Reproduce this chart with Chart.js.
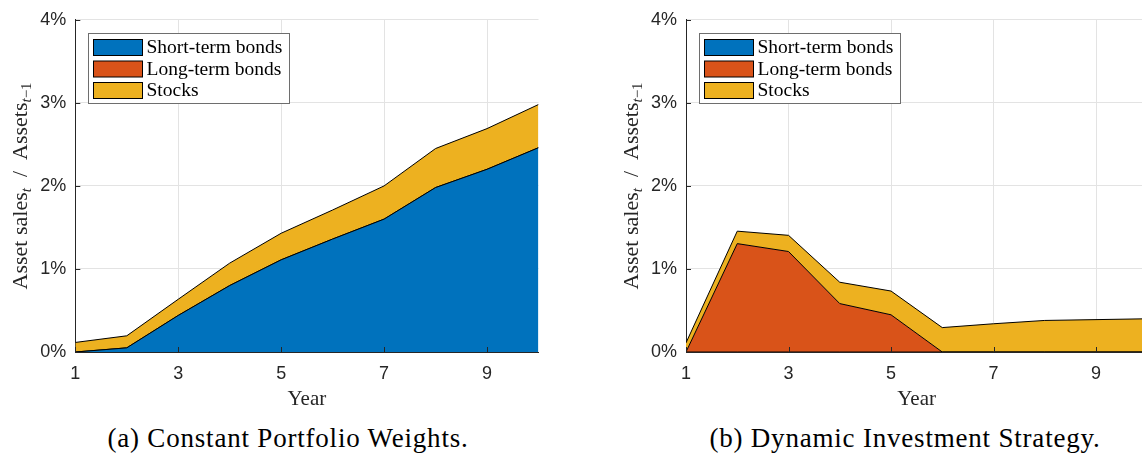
<!DOCTYPE html>
<html><head><meta charset="utf-8">
<script src="https://cdn.jsdelivr.net/npm/chart.js@4.4.1/dist/chart.umd.min.js"></script>
<style>
html,body{margin:0;padding:0;background:#fff;}
body{width:1142px;height:460px;overflow:hidden;position:relative;}
.wrap{position:absolute;top:0;width:560px;height:420px;}
#w1{left:0;}
#w2{left:600px;}
canvas{display:block;}
.cap{position:absolute;top:420px;font-family:"Liberation Serif","Times New Roman",serif;font-size:27px;letter-spacing:0.8px;color:#000;white-space:nowrap;transform:translateX(-50%);line-height:36px;}
</style></head><body>
<div class="wrap" id="w1"><canvas id="c1" width="560" height="420" style="width:560px;height:420px"></canvas></div>
<div class="wrap" id="w2"><canvas id="c2" width="560" height="420" style="width:560px;height:420px"></canvas></div>
<div class="cap" id="capA" style="left:288px"></div>
<div class="cap" id="capB" style="left:905px"></div>
<script>
// ---- data ----
const years = [1, 2, 3, 4, 5, 6, 7, 8, 9, 10];
const seriesNames = ['Short-term bonds', 'Long-term bonds', 'Stocks'];
const seriesColors = ['#0072BD', '#D95319', '#EDB120'];
// (a) Constant Portfolio Weights (percent of assets)
const constShort  = [0, 0.05, 0.44, 0.80, 1.11, 1.36, 1.60, 1.98, 2.20, 2.46];
const constLong   = [0, 0, 0, 0, 0, 0, 0, 0, 0, 0];
const constStocks = [0.115, 0.145, 0.195, 0.27, 0.32, 0.35, 0.40, 0.47, 0.49, 0.52];
// (b) Dynamic Investment Strategy
const dynShort  = [0, 0, 0, 0, 0, 0, 0, 0, 0, 0];
const dynLong   = [0, 1.305, 1.21, 0.583, 0.448, 0, 0, 0, 0, 0];
const dynStocks = [0.11, 0.15, 0.195, 0.257, 0.286, 0.294, 0.34, 0.38, 0.39, 0.40];
const xTicks = [1, 3, 5, 7, 9];
const yTicks = [0, 1, 2, 3, 4];
const yTickLabels = ['0%', '1%', '2%', '3%', '4%'];
const xTitle = 'Year';
const captions = ['(a) Constant Portfolio Weights.', '(b) Dynamic Investment Strategy.'];

document.getElementById('capA').textContent = captions[0];
document.getElementById('capB').textContent = captions[1];

const AXIS = '#262626';
const GRID = '#e3e3e3';
const SERIF = '"Liberation Serif","Times New Roman",serif';
const SANS = '"Liberation Sans",Arial,Helvetica,sans-serif';

function pts(arr) { return years.map((x, i) => ({x: x, y: arr[i]})); }

const decorPlugin = {
  id: 'decor',
  afterDraw(chart) {
    const ctx = chart.ctx, ca = chart.chartArea;
    const xs = chart.scales.x, ys = chart.scales.y;
    ctx.save();
    // inward tick marks
    ctx.strokeStyle = AXIS; ctx.lineWidth = 1;
    ctx.beginPath();
    yTicks.forEach(v => { const y = Math.round(ys.getPixelForValue(v)) + 0.5; ctx.moveTo(ca.left, y); ctx.lineTo(ca.left + 5, y); });
    xTicks.forEach(v => { const x = Math.round(xs.getPixelForValue(v)) + 0.5; ctx.moveTo(x, ca.bottom); ctx.lineTo(x, ca.bottom - 5); });
    ctx.stroke();
    // x title
    ctx.fillStyle = AXIS;
    ctx.font = '21px ' + SERIF;
    ctx.textAlign = 'center'; ctx.textBaseline = 'alphabetic';
    ctx.fillText(xTitle, (ca.left + ca.right) / 2, 405);
    // y title with subscripts
    const parts = [
      {t: 'Asset sales', s: 0, it: 0},
      {t: 't', s: 1, it: 1},
      {t: '  /  ', s: 0, it: 0},
      {t: 'Assets', s: 0, it: 0},
      {t: 't', s: 1, it: 1},
      {t: '\u22121', s: 1, it: 0}
    ];
    const big = 22, small = 15;
    const fontFor = p => (p.it ? 'italic ' : '') + (p.s ? small : big) + 'px ' + SERIF;
    let total = 0;
    parts.forEach(p => { ctx.font = fontFor(p); p.w = ctx.measureText(p.t).width; total += p.w; });
    ctx.translate(ca.left - 48, (ca.top + ca.bottom) / 2);
    ctx.rotate(-Math.PI / 2);
    ctx.textAlign = 'left';
    let cx = -total / 2;
    parts.forEach(p => { ctx.font = fontFor(p); ctx.fillText(p.t, cx, p.s ? 4 : 0); cx += p.w; });
    ctx.restore();
    // legend
    ctx.save();
    const bx = Math.round(ca.left + 13) + 0.5, by = Math.round(ca.top + 13) + 0.5, bw = 201, bh = 70;
    ctx.fillStyle = '#fff'; ctx.fillRect(bx, by, bw, bh);
    ctx.strokeStyle = '#6e6e6e'; ctx.lineWidth = 1; ctx.strokeRect(bx, by, bw, bh);
    ctx.font = '19.5px ' + SERIF; ctx.textBaseline = 'middle'; ctx.textAlign = 'left';
    chart.data.datasets.forEach((d, i) => {
      const ry = by + 6 + i * 21.5;
      ctx.fillStyle = d.backgroundColor; ctx.fillRect(bx + 5, ry, 49, 16);
      ctx.strokeStyle = '#000'; ctx.strokeRect(bx + 5, ry, 49, 16);
      ctx.fillStyle = '#000'; ctx.fillText(d.label, bx + 58, ry + 8.5);
    });
    ctx.restore();
  }
};

function makeChart(id, yWidth, rightPad, s, l, st) {
  const data = [s, l, st];
  return new Chart(document.getElementById(id), {
    type: 'line',
    data: {
      datasets: seriesNames.map((n, i) => ({
        label: n,
        data: pts(data[i]),
        backgroundColor: seriesColors[i],
        borderColor: '#000',
        borderWidth: 1,
        fill: i === 0 ? 'origin' : '-1',
        pointRadius: 0,
        tension: 0
      }))
    },
    options: {
      responsive: false,
      animation: false,
      events: [],
      layout: {padding: {left: 0, right: rightPad, top: 16, bottom: 0}},
      plugins: {legend: {display: false}, tooltip: {enabled: false}},
      scales: {
        x: {
          type: 'linear', min: 1, max: 10,
          afterBuildTicks: sc => { sc.ticks = xTicks.map(v => ({value: v})); },
          afterFit: sc => { sc.height = 68; },
          ticks: {color: AXIS, font: {family: SANS, size: 18}, padding: 11, callback: v => String(v), maxRotation: 0, autoSkip: false},
          grid: {color: GRID, drawTicks: false, lineWidth: 1},
          border: {color: AXIS, width: 1}
        },
        y: {
          type: 'linear', min: 0, max: 4, stacked: true,
          afterBuildTicks: sc => { sc.ticks = yTicks.map(v => ({value: v})); },
          afterFit: sc => { sc.width = yWidth; },
          ticks: {color: AXIS, font: {family: SANS, size: 18}, padding: 9, callback: (v) => yTickLabels[yTicks.indexOf(v)]},
          grid: {color: GRID, drawTicks: false, lineWidth: 1},
          border: {color: AXIS, width: 1}
        }
      }
    },
    plugins: [decorPlugin]
  });
}

makeChart('c1', 75.3, 21.5, constShort, constLong, constStocks);
makeChart('c2', 86, 12.75, dynShort, dynLong, dynStocks);
</script>
</body></html>
